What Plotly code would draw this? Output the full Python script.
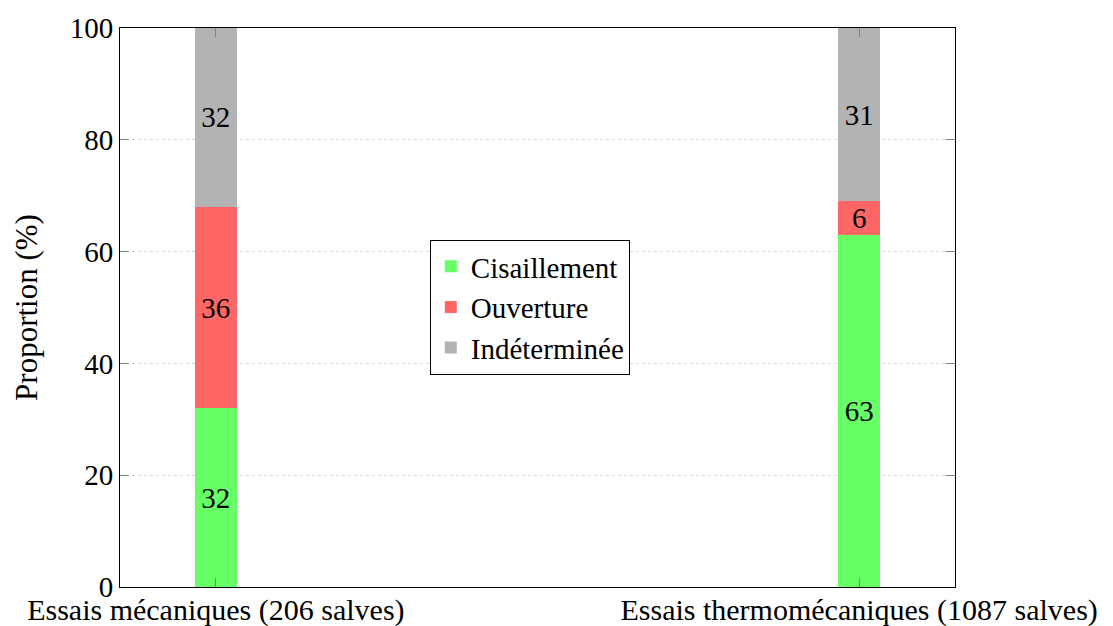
import plotly.graph_objects as go

categories = ["Essais mécaniques (206 salves)", "Essais thermomécaniques (1087 salves)"]
series_names = ["Cisaillement", "Ouverture", "Indéterminée"]
cisaillement = [32, 63]
ouverture = [36, 6]
indeterminee = [32, 31]
y_ticks = [0, 20, 40, 60, 80, 100]

colors = ["#66FF66", "#FF6666", "#B3B3B3"]
FONT = "Liberation Serif"
FS = 29

x_pos = [0, 1]
fig = go.Figure()
for name, vals, col in zip(series_names, [cisaillement, ouverture, indeterminee], colors):
    fig.add_trace(go.Bar(
        x=x_pos, y=vals, name=name, width=0.066,
        marker=dict(color=col, line=dict(width=0)),
        text=[str(v) for v in vals], textposition="inside",
        insidetextanchor="middle", constraintext="none", textangle=0,
        textfont=dict(family=FONT, size=FS, color="black"),
        cliponaxis=False,
    ))

fig.update_layout(
    barmode="stack",
    width=1113, height=626,
    margin=dict(l=120, r=158, t=28, b=39),
    paper_bgcolor="white", plot_bgcolor="white",
    font=dict(family=FONT, size=FS, color="black"),
    showlegend=True,
    legend=dict(
        x=0.371, y=0.621, xanchor="left", yanchor="top",
        bgcolor="white", bordercolor="black", borderwidth=1,
        font=dict(family=FONT, size=FS, color="black"),
        tracegroupgap=0, traceorder="normal",
        itemwidth=30,
    ),
)
fig.update_xaxes(
    range=[-0.149, 1.149],
    tickvals=x_pos, ticktext=categories,
    ticks="inside", ticklen=9, tickcolor="#808080", tickwidth=1,
    showline=True, linecolor="black", linewidth=1, mirror="ticks",
    showgrid=True, gridcolor="#D8D8D8", griddash="dot", gridwidth=1,
    tickfont=dict(family=FONT, size=30, color="black"),
    ticklabelstandoff=-4,
    zeroline=False, automargin=False,
)
fig.update_yaxes(
    range=[0, 100],
    tickvals=y_ticks, ticktext=[str(v) for v in y_ticks],
    ticks="inside", ticklen=9, tickcolor="#808080", tickwidth=1,
    showline=True, linecolor="black", linewidth=1, mirror="ticks",
    showgrid=True, gridcolor="#D8D8D8", griddash="dot", gridwidth=1,
    tickfont=dict(family=FONT, size=FS, color="black"),
    title=dict(text="Proportion (%)", font=dict(family=FONT, size=31, color="black"), standoff=22),
    zeroline=False, automargin=False,
)

fig.write_html("out.html")
